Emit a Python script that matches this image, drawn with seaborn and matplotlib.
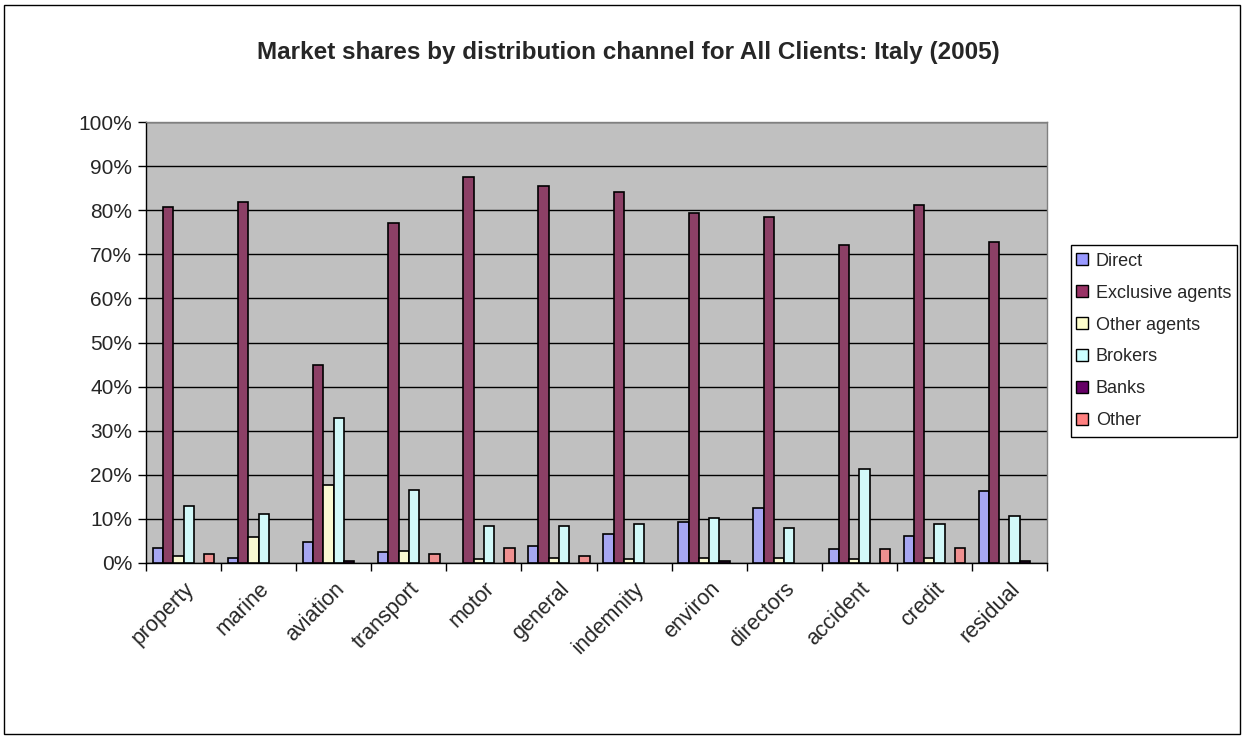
import matplotlib
matplotlib.use("Agg")
import matplotlib.pyplot as plt
import seaborn as sns
import pandas as pd
import numpy as np
from matplotlib.patches import Rectangle, Patch
from matplotlib.ticker import FixedLocator, PercentFormatter

categories = ["property", "marine", "aviation", "transport", "motor", "general",
              "indemnity", "environ", "directors", "accident", "credit", "residual"]
channels = ["Direct", "Exclusive agents", "Other agents", "Brokers", "Banks", "Other"]

direct = [3.5, 1.2, 4.7, 2.4, 0.0, 3.9, 6.5, 9.2, 12.5, 3.1, 6.1, 16.4]
exclusive = [80.7, 81.9, 45.0, 77.0, 87.6, 85.4, 84.1, 79.3, 78.5, 72.0, 81.1, 72.8]
other_agents = [1.5, 5.9, 17.6, 2.7, 0.8, 1.2, 0.8, 1.2, 1.2, 0.8, 1.2, 0.0]
brokers = [13.0, 11.1, 32.8, 16.5, 8.4, 8.4, 8.8, 10.3, 8.0, 21.3, 8.8, 10.7]
banks = [0.0, 0.0, 0.5, 0.0, 0.0, 0.0, 0.0, 0.5, 0.0, 0.0, 0.0, 0.5]
other = [2.0, 0.0, 0.0, 2.0, 3.5, 1.6, 0.0, 0.0, 0.0, 3.1, 3.5, 0.0]

colors = ["#9999FF", "#993366", "#FFFFCC", "#CCFFFF", "#660066", "#FF8080"]

series = [direct, exclusive, other_agents, brokers, banks, other]
rows = []
for ch, vals in zip(channels, series):
    for cat, v in zip(categories, vals):
        rows.append({"category": cat, "channel": ch, "value": v})
df = pd.DataFrame(rows)

sns.set_theme(style="white")
plt.rcParams["font.family"] = ["Liberation Sans", "DejaVu Sans"]

W, H = 1247, 739
fig = plt.figure(figsize=(W/100, H/100), dpi=100)
ax = fig.add_axes([146/W, 1-563/H, (1047-146)/W, (563-122)/H])
ax.set_facecolor("#C0C0C0")

sns.barplot(data=df, x="category", y="value", hue="channel", order=categories,
            hue_order=channels, palette=colors, width=0.82, edgecolor="black",
            linewidth=1.2, ax=ax, legend=False, zorder=3)

# hide zero-height bars (not drawn in the original)
for p in ax.patches:
    if p.get_height() == 0:
        p.set_visible(False)

ax.set_ylim(0, 100)
ax.set_xlim(-0.5, len(categories) - 0.5)
ax.set_yticks(np.arange(0, 101, 10))
ax.yaxis.set_major_formatter(PercentFormatter(decimals=0))
ax.grid(axis="y", color="black", linewidth=1.0, zorder=0)
ax.set_axisbelow(True)
ax.set_xlabel("")
ax.set_ylabel("")

ax.set_xticks(range(len(categories)))
ax.set_xticklabels(categories, rotation=45, ha="right", rotation_mode="anchor", fontsize=15.5)
ax.xaxis.set_minor_locator(FixedLocator(np.arange(-0.5, len(categories), 1.0)))
ax.tick_params(axis="x", which="major", length=0, pad=11)
ax.tick_params(axis="x", which="minor", length=6, width=1, color="black", bottom=True)
ax.tick_params(axis="y", which="major", length=6, width=1, color="black", left=True,
               labelsize=15, pad=4)

for s in ["left", "bottom"]:
    ax.spines[s].set_color("black")
    ax.spines[s].set_linewidth(1.0)
for s in ["top", "right"]:
    ax.spines[s].set_color("#808080")
    ax.spines[s].set_linewidth(1.0)

fig.text(0.504, 1-52/H, "Market shares by distribution channel for All Clients: Italy (2005)",
         ha="center", va="center", fontsize=17.5, fontweight="bold")

# legend box drawn explicitly to match the original frame
fig.patches.append(Rectangle((1071/W, 1-437/H), (1237-1071)/W, (437-245)/H,
                             transform=fig.transFigure, facecolor="white",
                             edgecolor="black", linewidth=1.0, zorder=1))
handles = [Patch(facecolor=c, edgecolor="black", linewidth=1.0) for c in colors]
leg = fig.legend(handles, channels, loc="center left",
                 bbox_to_anchor=(1071/W, 1-341/H), frameon=False,
                 fontsize=13, handlelength=0.62, handleheight=0.62, handletextpad=0.45,
                 labelspacing=0.83, borderpad=0.3, borderaxespad=0)
leg.set_zorder(5)

fig.patches.append(Rectangle((4/W, 5/H), 1236/W, 729/H, transform=fig.transFigure,
                             fill=False, edgecolor="black", linewidth=1.0))

fig.savefig("out.png", dpi=100, facecolor="white")
